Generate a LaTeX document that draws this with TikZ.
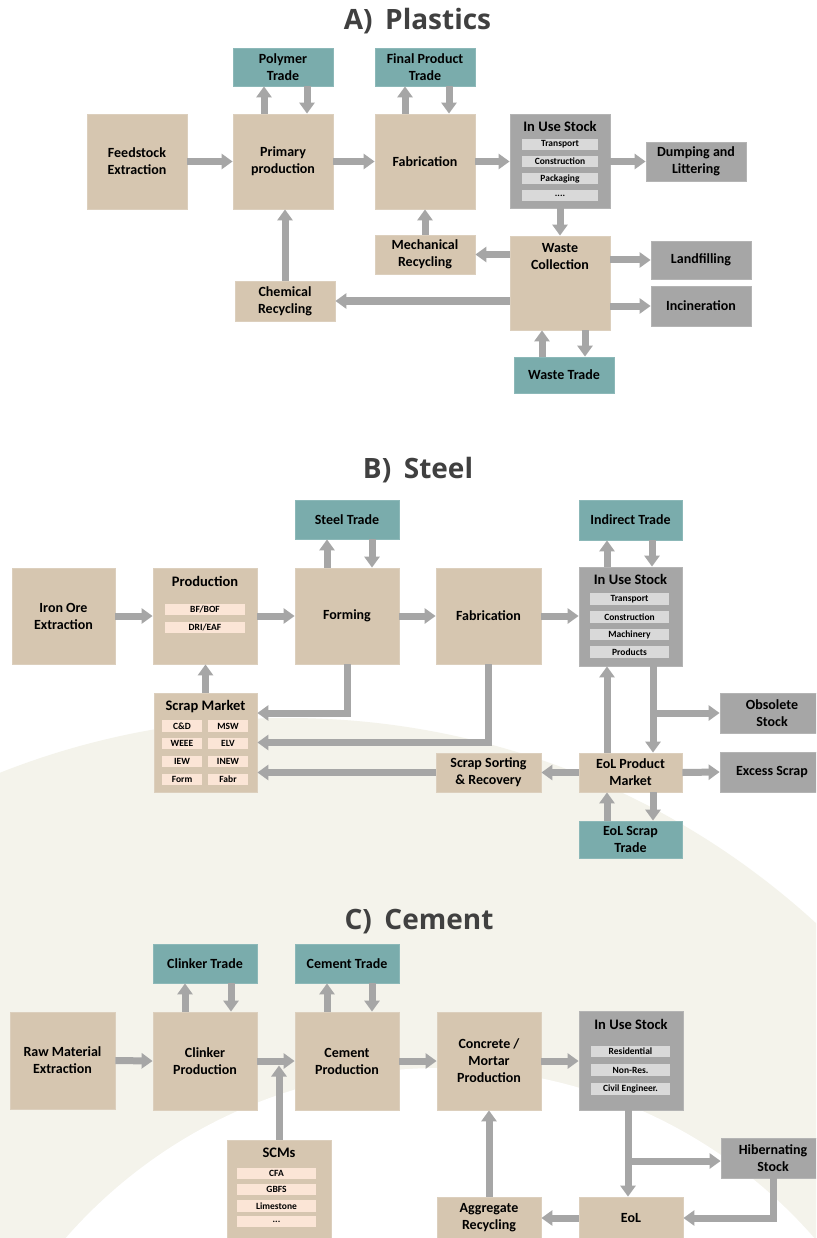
\documentclass[tikz,border=0pt]{standalone}
\usepackage{fontspec}
\setmainfont{Carlito}
\newfontfamily\titlefont{Open Sans}
\usetikzlibrary{arrows.meta}
\definecolor{boxtan}{HTML}{D6C6B0}
\definecolor{boxtanedge}{HTML}{DCCFBD}
\definecolor{boxteal}{HTML}{7AACAC}
\definecolor{boxtealedge}{HTML}{8CB8B8}
\definecolor{boxgray}{HTML}{A6A6A6}
\definecolor{boxgrayedge}{HTML}{B4B4B4}
\definecolor{arrgray}{HTML}{A6A6A6}
\definecolor{itemgray}{HTML}{D9D9D9}
\definecolor{itempink}{HTML}{FBE5D6}
\definecolor{bgbeige}{HTML}{F4F3EB}
\definecolor{titlegray}{HTML}{404040}
\tikzset{
  box/.style={inner sep=2pt, align=center, text=black,
    font=\fontsize{14}{17}\selectfont\bfseries, line width=0.8pt},
  tanbox/.style={box, fill=boxtan, draw=boxtanedge},
  tealbox/.style={box, fill=boxteal, draw=boxtealedge},
  graybox/.style={box, fill=boxgray, draw=boxgrayedge},
  gitem/.style={inner sep=0pt, fill=itemgray, text=black, font=\fontsize{9.5}{10}\selectfont\bfseries},
  pitem/.style={inner sep=0pt, fill=itempink, text=black, font=\fontsize{9.5}{10}\selectfont\bfseries},
  boxtitle/.style={inner sep=0pt, text=black, font=\fontsize{14.5}{17}\selectfont\bfseries},
  sectitle/.style={anchor=base, inner sep=0pt, text=titlegray, font=\titlefont\fontsize{28}{32}\selectfont\bfseries},
  flow/.style={draw=arrgray, line width=7pt, -{Triangle[length=11pt,width=15pt]}}
}
% name, x1, y1, x2, y2, style, text
\newcommand\bx[7]{\node[#6, minimum width={#4-#2}, minimum height={#5-#3}] (#1) at ({(#2+#4)/2},{(#3+#5)/2}) {#7};}
\begin{document}
\begin{tikzpicture}[x=1pt,y=-1pt]
\clip (0,0) rectangle (816,1238);
\fill[white] (0,0) rectangle (816,1238);
\fill[bgbeige] (288,1500) circle[radius=782pt];
\fill[white] (440,1565) circle[radius=497pt];

% ================= A) Plastics =================
\node[sectitle] (tA) at (417.5,30) {A)\hspace{0.45em}Plastics};
\bx{fe}{87}{114}{187}{209}{tanbox}{Feedstock\\Extraction}
\bx{pp}{233}{114}{333}{209}{tanbox}{Primary\\production}
\bx{fab}{375}{114}{475}{209}{tanbox}{Fabrication}
\bx{ius}{510}{114}{610}{208}{graybox}{}
\node[boxtitle] (iusT) at (560,126) {In Use Stock};
\bx{iusA}{522}{139}{598}{150}{gitem}{Transport}
\bx{iusB}{522}{156}{598}{167}{gitem}{Construction}
\bx{iusC}{522}{173}{598}{184}{gitem}{Packaging}
\bx{iusD}{522}{190}{598}{201}{gitem}{....}
\bx{dl}{646}{142}{746}{181}{graybox}{Dumping and\\Littering}
\bx{pt}{233}{48}{333}{86}{tealbox}{Polymer\\Trade}
\bx{fpt}{375}{48}{475}{86}{tealbox}{Final Product\\Trade}
\bx{mr}{375}{235}{475}{274}{tanbox}{Mechanical\\Recycling}
\bx{wc}{510}{236}{610}{330}{tanbox}{}
\node[boxtitle, align=center, font=\fontsize{14}{17}\selectfont\bfseries] (wcT) at (560,257) {Waste\\Collection};
\bx{lf}{651}{241}{751}{279}{graybox}{Landfilling}
\bx{inc}{651}{286}{751}{326}{graybox}{Incineration}
\bx{cr}{235}{281}{335}{321}{tanbox}{Chemical\\Recycling}
\bx{wt}{514}{357}{614}{393}{tealbox}{Waste Trade}

\draw[flow] (fe.east) -- (pp.west);
\draw[flow] (pp.east) -- (fab.west);
\draw[flow] (fab.east) -- (fab.east -| ius.west);
\draw[flow] (ius.east |- dl.west) -- (dl.west);
\draw[flow] ([xshift=-19pt]pp.north) -- ([xshift=-19pt]pt.south);
\draw[flow] ([xshift=24pt]pt.south) -- ([xshift=24pt]pp.north);
\draw[flow] ([xshift=-20pt]fab.north) -- ([xshift=-20pt]fpt.south);
\draw[flow] ([xshift=24pt]fpt.south) -- ([xshift=24pt]fab.north);
\draw[flow] (ius.south) -- (wc.north);
\draw[flow] (mr.north) -- (fab.south);
\draw[flow] (wc.west |- mr.east) -- (mr.east);
\draw[flow] (wc.east |- lf.west) -- (lf.west);
\draw[flow] (wc.east |- inc.west) -- (inc.west);
\draw[flow] (wc.west |- cr.east) -- (cr.east);
\draw[flow] (cr.north) -- (cr.north |- pp.south);
\draw[flow] ([xshift=-22pt]wt.north) -- ([xshift=-18pt]wc.south);
\draw[flow] ([xshift=25pt]wc.south) -- ([xshift=21pt]wt.north);

% ================= B) Steel =================
\node[sectitle] (tB) at (418,478) {B)\hspace{0.45em}Steel};
\bx{ioe}{12}{568}{115}{664}{tanbox}{Iron Ore\\Extraction}
\bx{prod}{153}{568}{257}{664}{tanbox}{}
\node[boxtitle] (prodT) at (205,581) {Production};
\bx{prodA}{165}{604}{245}{615}{pitem}{BF/BOF}
\bx{prodB}{165}{622}{245}{633}{pitem}{DRI/EAF}
\bx{form}{295}{568}{399}{664}{tanbox}{Forming}
\bx{sfab}{436}{568}{541}{664}{tanbox}{Fabrication}
\bx{sius}{579}{567}{682}{666}{graybox}{}
\node[boxtitle] (siusT) at (630.5,579) {In Use Stock};
\bx{siusA}{590}{593}{669}{605}{gitem}{Transport}
\bx{siusB}{590}{611}{669}{623}{gitem}{Construction}
\bx{siusC}{590}{629}{669}{640}{gitem}{Machinery}
\bx{siusD}{590}{646}{669}{658}{gitem}{Products}
\bx{st}{295}{500}{399}{539}{tealbox}{Steel Trade}
\bx{it}{579}{500}{682}{540}{tealbox}{Indirect Trade}
\bx{sm}{154}{693}{257}{792}{tanbox}{}
\node[boxtitle] (smT) at (205.5,707) {Scrap Market};
\bx{smA}{162}{720}{202}{732}{pitem}{C\&D}
\bx{smB}{208}{720}{248}{732}{pitem}{MSW}
\bx{smC}{162}{738}{202}{749}{pitem}{WEEE}
\bx{smD}{208}{738}{248}{749}{pitem}{ELV}
\bx{smE}{162}{756}{202}{767}{pitem}{IEW}
\bx{smF}{208}{756}{248}{767}{pitem}{INEW}
\bx{smG}{162}{774}{202}{785}{pitem}{Form}
\bx{smH}{208}{774}{248}{785}{pitem}{Fabr}
\bx{ssr}{436}{753}{541}{792}{tanbox}{Scrap Sorting\\\& Recovery}
\bx{eolm}{579}{753}{682}{792}{tanbox}{EoL Product\\Market}
\bx{obs}{720}{693}{824}{733}{graybox}{Obsolete\\Stock}
\bx{exs}{720}{752}{824}{792}{graybox}{Excess Scrap}
\bx{est}{579}{821}{682}{858}{tealbox}{EoL Scrap\\Trade}

\draw[flow] (ioe.east) -- (prod.west);
\draw[flow] (prod.east) -- (form.west);
\draw[flow] (form.east) -- (sfab.west);
\draw[flow] (sfab.east) -- (sfab.east -| sius.west);
\draw[flow] ([xshift=-20pt]form.north) -- ([xshift=-20pt]st.south);
\draw[flow] ([xshift=25pt]st.south) -- ([xshift=25pt]form.north);
\draw[flow] ([xshift=-23.5pt]sius.north) -- ([xshift=-23.5pt]it.south);
\draw[flow] ([xshift=21.5pt]it.south) -- ([xshift=21.5pt]sius.north);
\draw[flow] (sm.north) -- (sm.north |- prod.south);
\draw[flow] (form.south) |- ([yshift=29.5pt]sm.east);
\draw[flow] (sfab.south) |- (sm.east);
\draw[flow] (ssr.west) -- (ssr.west -| sm.east);
\draw[flow] (eolm.west) -- (ssr.east);
\draw[flow] (eolm.east) -- (exs.west);
\draw[flow] ([xshift=-23.5pt]eolm.north) -- ([xshift=-23.5pt]sius.south);
\draw[flow] ([xshift=22.5pt]sius.south) -- ([xshift=22.5pt]eolm.north);
\coordinate (sb) at ([xshift=22.5pt]sius.south);
\draw[flow] (sb |- obs.west) -- (obs.west);
\draw[flow] ([xshift=-23.5pt]est.north) -- ([xshift=-23.5pt]eolm.south);
\draw[flow] ([xshift=22.5pt]eolm.south) -- ([xshift=22.5pt]est.north);

% ================= C) Cement =================
\node[sectitle] (tC) at (419,929) {C)\hspace{0.45em}Cement};
\bx{rme}{10}{1012}{115}{1109}{tanbox}{Raw Material\\Extraction}
\bx{cp}{153}{1012}{257}{1110}{tanbox}{Clinker\\Production}
\bx{cep}{295}{1012}{399}{1110}{tanbox}{Cement\\Production}
\bx{cmp}{437}{1012}{541}{1110}{tanbox}{Concrete /\\Mortar\\Production}
\bx{cius}{579}{1011}{683}{1110}{graybox}{}
\node[boxtitle] (ciusT) at (631,1024) {In Use Stock};
\bx{ciusA}{591}{1046}{670}{1057}{gitem}{Residential}
\bx{ciusB}{591}{1064}{670}{1076}{gitem}{Non-Res.}
\bx{ciusC}{591}{1083}{670}{1095}{gitem}{Civil Engineer.}
\bx{ct}{153}{944}{257}{983}{tealbox}{Clinker Trade}
\bx{cet}{295}{944}{399}{983}{tealbox}{Cement Trade}
\bx{scm}{227}{1140}{331}{1250}{tanbox}{}
\node[boxtitle] (scmT) at (279,1153) {SCMs};
\bx{scmA}{237}{1168}{316}{1179}{pitem}{CFA}
\bx{scmB}{237}{1184}{316}{1195}{pitem}{GBFS}
\bx{scmC}{237}{1200}{316}{1212}{pitem}{Limestone}
\bx{scmD}{237}{1216}{316}{1227}{pitem}{...}
\bx{hib}{721}{1138}{825}{1178}{graybox}{Hibernating\\Stock}
\bx{ar}{437}{1197}{541}{1239}{tanbox}{Aggregate\\Recycling}
\bx{ceol}{579}{1197}{683}{1239}{tanbox}{EoL}

\draw[flow] (rme.east) -- (cp.west);
\draw[flow] (cp.east) -- (cep.west);
\coordinate (scmj) at (scm.north |- cp.east);
\draw[flow] (scm.north) -- ([yshift=-4.5pt]scmj);
\draw[flow] (cep.east) -- (cmp.west);
\draw[flow] (cmp.east) -- (cmp.east -| cius.west);
\draw[flow] ([xshift=-20pt]cp.north) -- ([xshift=-20pt]ct.south);
\draw[flow] ([xshift=26pt]ct.south) -- ([xshift=26pt]cp.north);
\draw[flow] ([xshift=-20pt]cep.north) -- ([xshift=-20pt]cet.south);
\draw[flow] ([xshift=25pt]cet.south) -- ([xshift=25pt]cep.north);
\draw[flow] ([xshift=-3pt]cius.south) -- ([xshift=-3pt]ceol.north);
\coordinate (cb) at ([xshift=-3pt]cius.south);
\draw[flow] (cb |- 0,1161) -- (hib.west |- 0,1161);
\draw[flow] (hib.south) |- (ceol.east);
\draw[flow] (ceol.west) -- (ar.east);
\draw[flow] (ar.north) -- (cmp.south);
\end{tikzpicture}
\end{document}
